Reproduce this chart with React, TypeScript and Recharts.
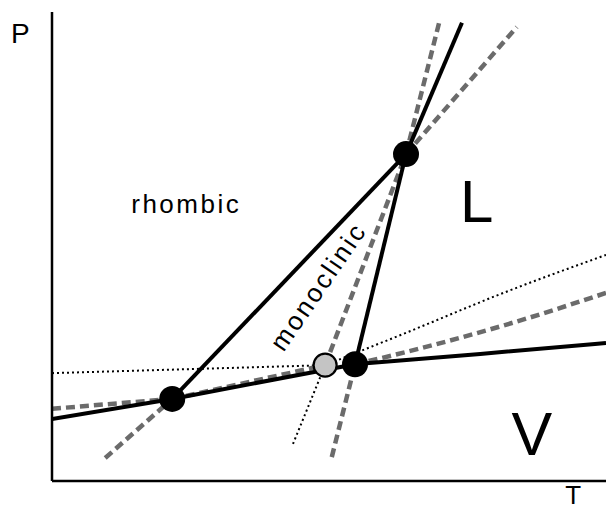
import React from 'react';
import { ComposedChart, Line, XAxis, YAxis, ReferenceDot } from 'recharts';

// Schematic sulfur phase diagram, arbitrary units (T: 0-100, P: 0-100)
// Triple points
const tripleRMV = { t: 21.7, p: 17.5 };   // rhombic / monoclinic / vapour
const tripleMLV = { t: 54.7, p: 24.9 };   // monoclinic / liquid / vapour
const tripleRML = { t: 63.9, p: 69.7 };   // rhombic / monoclinic / liquid
const metaRLV = { t: 49.3, p: 24.7 };     // metastable rhombic / liquid / vapour

// Stable equilibrium lines (solid)
const rhombicVapour = [{ t: 0, p: 13.2 }, tripleRMV];
const monoclinicVapour = [tripleRMV, tripleMLV];
const liquidVapour = [tripleMLV, { t: 77.3, p: 27.1 }, { t: 100, p: 29.4 }];
const rhombicMonoclinic = [tripleRMV, tripleRML];
const monoclinicLiquid = [tripleMLV, tripleRML];
const rhombicLiquid = [tripleRML, { t: 74.0, p: 97.7 }];

// Metastable extensions (dashed)
const monoLiquidUp = [tripleRML, { t: 70.0, p: 98.3 }];
const monoLiquidDown = [{ t: 50.5, p: 5.1 }, tripleMLV];
const rhombMonoUp = [tripleRML, { t: 83.9, p: 96.8 }];
const rhombMonoDown = [{ t: 9.6, p: 4.9 }, tripleRMV];
const rhombLiquidMeta = [metaRLV, tripleRML];
const rhombVapourMeta = [tripleRMV, metaRLV];
const monoVapourLeft = [{ t: 0, p: 15.4 }, tripleRMV];
const monoVapourRight = [tripleMLV, { t: 63.9, p: 27.5 }, { t: 81.9, p: 33.3 }, { t: 100, p: 40.1 }];

// Further metastable extensions (dotted)
const liquidVapourLeft = [{ t: 0, p: 23.0 }, metaRLV];
const rhombVapourRight = [metaRLV, { t: 63.9, p: 31.6 }, { t: 81.9, p: 40.3 }, { t: 100, p: 48.2 }];
const rhombLiquidDown = [{ t: 43.5, p: 7.9 }, metaRLV];

// Text labels
const labelTexts = ['P', 'T', 'rhombic', 'L', 'V', 'monoclinic'];
const labelT = [-7.4, 94.1, 14.3, 73.65, 86.6, 49.4];
const labelP = [93.4, -4.9, 57.1, 55.2, 5.5, 40.4];

const FONT = '"Liberation Sans", Arial, Helvetica, sans-serif';
const labelStyle: Record<string, { size: number; anchor: string; rotate?: number; ls?: number }> = {
  P: { size: 28, anchor: 'start' },
  T: { size: 26, anchor: 'middle' },
  rhombic: { size: 26, anchor: 'start', ls: 2.5 },
  L: { size: 60, anchor: 'start' },
  V: { size: 61, anchor: 'middle' },
  monoclinic: { size: 26, anchor: 'middle', rotate: -55.5, ls: 2.6 },
};

const solidLines = [rhombicVapour, monoclinicVapour, liquidVapour, rhombicMonoclinic, monoclinicLiquid, rhombicLiquid];
const dashedLines = [monoLiquidUp, monoLiquidDown, rhombMonoUp, rhombMonoDown, rhombLiquidMeta, rhombVapourMeta, monoVapourLeft, monoVapourRight];
const dottedLines = [liquidVapourLeft, rhombVapourRight, rhombLiquidDown];

const makeLabel = (text: string) => (props: any) => {
  const vb = props.viewBox || {};
  const x = vb.x;
  const y = vb.y;
  const s = labelStyle[text];
  return (
    <text
      x={x}
      y={y}
      fontSize={s.size}
      fontFamily={FONT}
      textAnchor={s.anchor as any}
      fill="#000"
      letterSpacing={s.ls ?? 0}
      transform={s.rotate ? `rotate(${s.rotate} ${x} ${y})` : undefined}
    >
      {text}
    </text>
  );
};

export default function App() {
  return (
    <div style={{ position: 'absolute', left: 0, top: 0, background: '#fff' }}>
      <ComposedChart width={606} height={511} margin={{ top: 12, right: 0, left: 0, bottom: 0 }}>
        <XAxis
          type="number"
          dataKey="t"
          domain={[0, 100]}
          allowDataOverflow
          height={30}
          tick={false}
          tickLine={false}
          axisLine={{ stroke: '#000', strokeWidth: 2.5 }}
        />
        <YAxis
          type="number"
          dataKey="p"
          domain={[0, 100]}
          allowDataOverflow
          width={52}
          tick={false}
          tickLine={false}
          axisLine={{ stroke: '#000', strokeWidth: 2.5 }}
        />
        {dottedLines.map((d, i) => (
          <Line
            key={'dot' + i}
            data={d}
            dataKey="p"
            type="monotone"
            stroke="#000"
            strokeWidth={2}
            strokeDasharray="2 3"
            dot={false}
            activeDot={false}
            isAnimationActive={false}
          />
        ))}
        {dashedLines.map((d, i) => (
          <Line
            key={'dash' + i}
            data={d}
            dataKey="p"
            type="monotone"
            stroke="#6b6b6b"
            strokeWidth={4.5}
            strokeDasharray="9 5"
            dot={false}
            activeDot={false}
            isAnimationActive={false}
          />
        ))}
        <ReferenceDot x={metaRLV.t} y={metaRLV.p} r={11.5} fill="#c4c4c4" stroke="#000" strokeWidth={2.2} />
        {solidLines.map((d, i) => (
          <Line
            key={'solid' + i}
            data={d}
            dataKey="p"
            type="monotone"
            stroke="#000"
            strokeWidth={4}
            dot={false}
            activeDot={false}
            isAnimationActive={false}
          />
        ))}
        {[tripleRMV, tripleMLV, tripleRML].map((pt, i) => (
          <ReferenceDot key={'tp' + i} x={pt.t} y={pt.p} r={13} fill="#000" stroke="none" />
        ))}
        {labelTexts.map((txt, i) => (
          <ReferenceDot
            key={'lbl' + i}
            x={labelT[i]}
            y={labelP[i]}
            r={0}
            fill="none"
            stroke="none"
            ifOverflow="visible"
            label={makeLabel(txt)}
          />
        ))}
      </ComposedChart>
    </div>
  );
}
